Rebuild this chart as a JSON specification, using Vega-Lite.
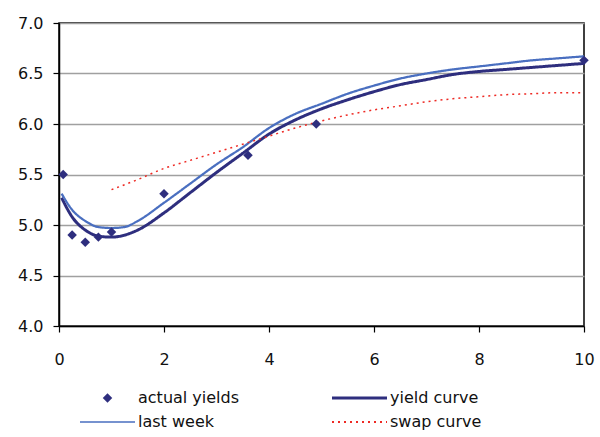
{
  "$schema": "https://vega.github.io/schema/vega-lite/v6.json",
  "width": 525,
  "height": 303,
  "autosize": {"type": "none"},
  "padding": {"left": 59, "top": 23, "right": 16, "bottom": 111},
  "background": "white",
  "config": {
    "view": {"stroke": "black", "strokeWidth": 1.5},
    "font": "DejaVu Sans",
    "axis": {"labelFont": "DejaVu Sans", "labelFontSize": 16, "labelColor": "#111111", "domainColor": "black", "domainWidth": 1.5, "tickColor": "black", "tickWidth": 1.2, "tickSize": 6, "title": null}
  },
  "datasets": {
    "curves": [
      {"series": "yield curve", "x": 0.05, "y": 5.27},
      {"series": "yield curve", "x": 0.25, "y": 5.08},
      {"series": "yield curve", "x": 0.5, "y": 4.95},
      {"series": "yield curve", "x": 0.75, "y": 4.89},
      {"series": "yield curve", "x": 1.0, "y": 4.88},
      {"series": "yield curve", "x": 1.25, "y": 4.9},
      {"series": "yield curve", "x": 1.5, "y": 4.95},
      {"series": "yield curve", "x": 2.0, "y": 5.12},
      {"series": "yield curve", "x": 2.5, "y": 5.32},
      {"series": "yield curve", "x": 3.0, "y": 5.52},
      {"series": "yield curve", "x": 3.5, "y": 5.71},
      {"series": "yield curve", "x": 4.0, "y": 5.9},
      {"series": "yield curve", "x": 4.5, "y": 6.04},
      {"series": "yield curve", "x": 5.0, "y": 6.15},
      {"series": "yield curve", "x": 5.5, "y": 6.24},
      {"series": "yield curve", "x": 6.0, "y": 6.32},
      {"series": "yield curve", "x": 6.5, "y": 6.39},
      {"series": "yield curve", "x": 7.0, "y": 6.44},
      {"series": "yield curve", "x": 7.5, "y": 6.49},
      {"series": "yield curve", "x": 8.0, "y": 6.52},
      {"series": "yield curve", "x": 8.5, "y": 6.54},
      {"series": "yield curve", "x": 9.0, "y": 6.56},
      {"series": "yield curve", "x": 9.5, "y": 6.58},
      {"series": "yield curve", "x": 10.0, "y": 6.6},
      {"series": "last week", "x": 0.05, "y": 5.31},
      {"series": "last week", "x": 0.25, "y": 5.15},
      {"series": "last week", "x": 0.5, "y": 5.04},
      {"series": "last week", "x": 0.75, "y": 4.98},
      {"series": "last week", "x": 1.0, "y": 4.97},
      {"series": "last week", "x": 1.25, "y": 4.98},
      {"series": "last week", "x": 1.5, "y": 5.04},
      {"series": "last week", "x": 2.0, "y": 5.22},
      {"series": "last week", "x": 2.5, "y": 5.41},
      {"series": "last week", "x": 3.0, "y": 5.6},
      {"series": "last week", "x": 3.5, "y": 5.77},
      {"series": "last week", "x": 4.0, "y": 5.96},
      {"series": "last week", "x": 4.5, "y": 6.1},
      {"series": "last week", "x": 5.0, "y": 6.2},
      {"series": "last week", "x": 5.5, "y": 6.3},
      {"series": "last week", "x": 6.0, "y": 6.38},
      {"series": "last week", "x": 6.5, "y": 6.45},
      {"series": "last week", "x": 7.0, "y": 6.5},
      {"series": "last week", "x": 7.5, "y": 6.54},
      {"series": "last week", "x": 8.0, "y": 6.57},
      {"series": "last week", "x": 8.5, "y": 6.6},
      {"series": "last week", "x": 9.0, "y": 6.63},
      {"series": "last week", "x": 9.5, "y": 6.65},
      {"series": "last week", "x": 10.0, "y": 6.67},
      {"series": "swap curve", "x": 1.0, "y": 5.35},
      {"series": "swap curve", "x": 1.5, "y": 5.45},
      {"series": "swap curve", "x": 2.0, "y": 5.56},
      {"series": "swap curve", "x": 2.5, "y": 5.64},
      {"series": "swap curve", "x": 3.0, "y": 5.72},
      {"series": "swap curve", "x": 3.5, "y": 5.8},
      {"series": "swap curve", "x": 4.0, "y": 5.88},
      {"series": "swap curve", "x": 4.5, "y": 5.96},
      {"series": "swap curve", "x": 5.0, "y": 6.03},
      {"series": "swap curve", "x": 5.5, "y": 6.09},
      {"series": "swap curve", "x": 6.0, "y": 6.14},
      {"series": "swap curve", "x": 6.5, "y": 6.18},
      {"series": "swap curve", "x": 7.0, "y": 6.22},
      {"series": "swap curve", "x": 7.5, "y": 6.25},
      {"series": "swap curve", "x": 8.0, "y": 6.27},
      {"series": "swap curve", "x": 8.5, "y": 6.29},
      {"series": "swap curve", "x": 9.0, "y": 6.3},
      {"series": "swap curve", "x": 9.5, "y": 6.31},
      {"series": "swap curve", "x": 10.0, "y": 6.31}
    ],
    "actual": [
      {"series": "actual yields", "x": 0.08, "y": 5.5},
      {"series": "actual yields", "x": 0.25, "y": 4.9},
      {"series": "actual yields", "x": 0.5, "y": 4.83},
      {"series": "actual yields", "x": 0.75, "y": 4.88},
      {"series": "actual yields", "x": 1.0, "y": 4.93},
      {"series": "actual yields", "x": 2.0, "y": 5.31},
      {"series": "actual yields", "x": 3.6, "y": 5.69},
      {"series": "actual yields", "x": 4.9, "y": 6.0},
      {"series": "actual yields", "x": 10.0, "y": 6.63}
    ]
  },
  "encoding": {
    "x": {"field": "x", "type": "quantitative", "scale": {"domain": [0, 10], "nice": false}, "axis": {"values": [0, 2, 4, 6, 8, 10], "grid": false, "labelPadding": 19, "labelFlush": false}},
    "y": {"field": "y", "type": "quantitative", "scale": {"domain": [4, 7], "nice": false, "zero": false}, "axis": {"values": [4, 4.5, 5, 5.5, 6, 6.5, 7], "format": ".1f", "grid": true, "gridColor": "#A0A0A0", "gridWidth": 1.5, "labelPadding": 10}}
  },
  "layer": [
    {
      "data": {"name": "curves"},
      "mark": {"type": "line", "interpolate": "monotone"},
      "encoding": {
        "color": {
          "field": "series", "type": "nominal",
          "scale": {"domain": ["actual yields", "yield curve", "last week", "swap curve"], "range": ["#2E2E7E", "#2E2E7E", "#4A6FC0", "#EE2A24"]},
          "legend": {
            "title": null, "orient": "none", "legendX": 40.5, "legendY": 367, "direction": "horizontal", "columns": 2,
            "columnPadding": 86, "rowPadding": 8, "labelFont": "DejaVu Sans", "labelFontSize": 16, "labelColor": "#111111", "labelOffset": 22.5,
            "symbolSize": 3025, "symbolType": "stroke", "symbolStrokeWidth": 2,
            "encode": {"symbols": {"update": {
              "shape": {"signal": "datum.value === 'actual yields' ? 'diamond' : 'stroke'"},
              "size": {"signal": "datum.value === 'actual yields' ? 90 : 3025"},
              "strokeWidth": {"signal": "datum.value === 'yield curve' ? 3 : datum.value === 'actual yields' ? 0 : datum.value === 'swap curve' ? 2 : 1.5"},
              "strokeDash": {"signal": "datum.value === 'swap curve' ? [2, 4] : [1, 0]"},
              "fill": {"signal": "datum.value === 'actual yields' ? '#2E2E7E' : 'transparent'"},
              "stroke": {"signal": "scale('color', datum.value)"},
              "opacity": {"value": 1}
            }}}
          }
        },
        "strokeWidth": {"field": "series", "type": "nominal", "scale": {"domain": ["yield curve", "last week", "swap curve"], "range": [3, 1.5, 2]}, "legend": null},
        "strokeDash": {"field": "series", "type": "nominal", "scale": {"domain": ["yield curve", "last week", "swap curve"], "range": [[1, 0], [1, 0], [2, 4]]}, "legend": null}
      }
    },
    {
      "data": {"name": "actual"},
      "mark": {"type": "point", "shape": "diamond", "filled": true, "size": 90, "opacity": 1},
      "encoding": {
        "color": {"field": "series", "type": "nominal"}
      }
    }
  ]
}
